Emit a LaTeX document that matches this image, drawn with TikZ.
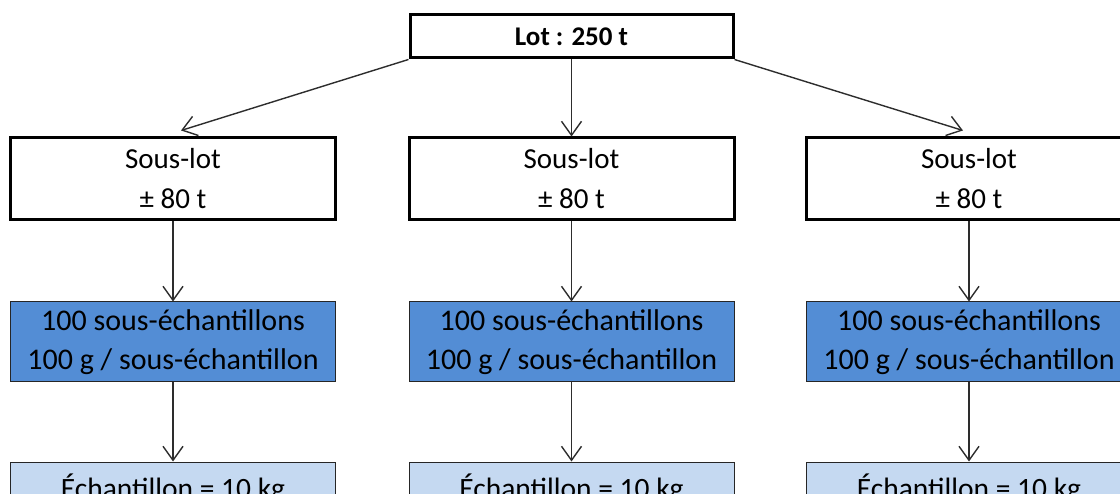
\documentclass[tikz,border=0pt]{standalone}
\usepackage{fontspec}
\setmainfont{Carlito}
\usetikzlibrary{positioning,arrows.meta}
\definecolor{lotblue}{RGB}{83,141,213}
\definecolor{lotlight}{RGB}{197,217,241}
\definecolor{arrowgray}{RGB}{45,45,45}
\tikzset{
  lotbox/.style={draw, line width=3pt, fill=white, minimum width=323pt, minimum height=43pt,
    inner sep=0pt, font=\fontsize{27}{32}\selectfont\bfseries},
  souslot/.style={draw, line width=3pt, fill=white, minimum width=325pt, minimum height=82pt,
    inner sep=0pt, align=center, font=\fontsize{29}{40}\selectfont},
  subsample/.style={draw=black!85, line width=1pt, fill=lotblue, minimum width=325pt, minimum height=80pt,
    inner sep=0pt, align=center, font=\fontsize{30}{39}\selectfont},
  sample/.style={draw=black!85, line width=1pt, fill=lotlight, minimum width=325pt, minimum height=54pt,
    inner sep=0pt, font=\fontsize{29.5}{35}\selectfont},
  arr/.style={draw=arrowgray, line width=1.4pt, -{Straight Barb[length=14pt,width=20pt]}}
}
\begin{document}
\begin{tikzpicture}[x=1pt,y=1pt]
  \useasboundingbox (0,0) rectangle (1120,-494);
  \clip (0,0) rectangle (1120,-494);
  % lot
  \node[lotbox] (lot) at (571.5,-36.5) {Lot : 250 t};
  % three columns
  \foreach \c/\x in {1/173,2/571.5,3/969}{
    \node[souslot] (sl\c) at (\x,-179) {Sous-lot\\± 80 t};
    \node[subsample] (sub\c) at (\x,-342) {100 sous-échantillons\\100 g / sous-échantillon};
    \node[sample] (ech\c) at (\x,-489) {Échantillon = 10 kg};
    \draw[arr] (sl\c) -- (sub\c);
    \draw[arr] (sub\c) -- (ech\c);
  }
  \draw[arr] (lot.south west) -- ([xshift=8pt,yshift=6pt]sl1.north);
  \draw[arr] (lot) -- (sl2);
  \draw[arr] (lot.south east) -- ([xshift=-6pt,yshift=6pt]sl3.north);
\end{tikzpicture}
\end{document}
